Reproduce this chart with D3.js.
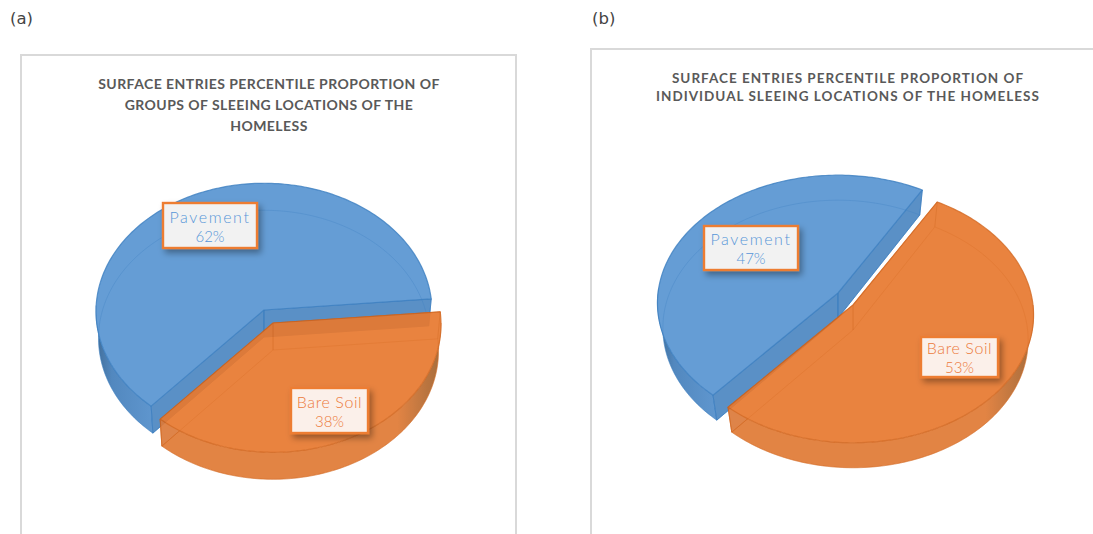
<!DOCTYPE html>
<html>
<head>
<meta charset="utf-8">
<title>Sleeping locations of the homeless</title>
<script src="https://cdnjs.cloudflare.com/ajax/libs/d3/7.8.5/d3.min.js"></script>
<style>
    html, body { margin: 0; padding: 0; background: #fff; overflow: hidden; }
    svg { display: block; }
    text { font-family: Lato, "Open Sans", sans-serif; }
    .tag { font-family: "DejaVu Sans", sans-serif; }
</style>
</head>
<body>
<svg id="chart" width="1093" height="534"></svg>
<script>
const categories = ['Pavement', 'Bare Soil'];
const groupShares = [62, 38];
const individualShares = [47, 53];
const groupTitle = [
    'SURFACE ENTRIES PERCENTILE PROPORTION OF',
    'GROUPS OF SLEEING LOCATIONS OF THE',
    'HOMELESS'
];
const individualTitle = [
    'SURFACE ENTRIES PERCENTILE PROPORTION OF',
    'INDIVIDUAL SLEEING LOCATIONS OF THE HOMELESS'
];

const faceColors = ['#659dd5', '#e8792f'];
const edgeColors = ['#3d7fc0', '#cf5f14'];
const wallStops = [
    ['#3f6a94', '#5288bf', '#5f96ce'],
    ['#e07a35', '#e07a35', '#9c602c']
];
const labelColors = ['#5796d8', '#ec7a3a'];
const labelSpacing = [1.6, 0.6];
const boxFills = ['#f2f2f2', '#fbf0ea'];

const panels = [
    {
        tag: '(a)', tagX: 10, tagY: 24,
        frame: { left: 21, top: 55, right: 516 },
        title: groupTitle, titleX: 269, titleY: 89, titleGap: 21, titleSize: 14, titleSpacing: 0.45,
        shares: groupShares,
        firstAngle: 221.8,
        rx: 168, ry: 128, perspective: 0.01, depth: 27, baseScale: 0.985,
        apex: [[264, 310], [273, 323]],
        boxes: [
            { x: 163, y: 203, w: 94, h: 45 },
            { x: 291, y: 388, w: 77, h: 45 }
        ]
    },
    {
        tag: '(b)', tagX: 592, tagY: 24,
        frame: { left: 591, top: 49, right: 1100 },
        title: individualTitle, titleX: 848, titleY: 83, titleGap: 18, titleSize: 13.5, titleSpacing: 1,
        shares: individualShares,
        firstAngle: 220.8,
        rx: 180, ry: 127, perspective: 0.078, depth: 25, baseScale: 0.97,
        apex: [[838, 293], [853, 305]],
        boxes: [
            { x: 704, y: 226, w: 94, h: 44 },
            { x: 921, y: 337, w: 77, h: 40 }
        ]
    }
];

const svg = d3.select('#chart');
const defs = svg.append('defs');

const shadow = defs.append('filter').attr('id', 'box-shadow')
    .attr('x', '-20%').attr('y', '-30%').attr('width', '140%').attr('height', '170%');
shadow.append('feDropShadow')
    .attr('dx', 3).attr('dy', 4).attr('stdDeviation', 3)
    .attr('flood-color', '#000').attr('flood-opacity', 0.35);

const toRad = d => d * Math.PI / 180;

panels.forEach((panel, panelIndex) => {
    const root = svg.append('g');

    root.append('path')
        .attr('d', `M${panel.frame.left},540V${panel.frame.top}H${panel.frame.right}V540`)
        .attr('fill', 'none')
        .attr('stroke', '#d9d9d9')
        .attr('stroke-width', 2);

    root.append('text')
        .attr('class', 'tag')
        .attr('x', panel.tagX).attr('y', panel.tagY)
        .attr('font-size', 16.5).attr('fill', '#444')
        .text(panel.tag);

    root.selectAll('.title').data(panel.title).join('text')
        .attr('class', 'title')
        .attr('x', panel.titleX)
        .attr('y', (d, i) => panel.titleY + i * panel.titleGap)
        .attr('text-anchor', 'middle')
        .attr('font-size', panel.titleSize)
        .attr('font-weight', 700)
        .attr('letter-spacing', panel.titleSpacing)
        .attr('fill', '#595959')
        .text(d => d);

    const start = toRad(panel.firstAngle);
    const slices = d3.pie().sort(null).startAngle(start).endAngle(start + 2 * Math.PI)(panel.shares);

    slices.forEach((slice, i) => {
        const [ax, ay] = panel.apex[i];
        const xScale = d3.scaleLinear().domain([-1, 1]).range([ax - panel.rx, ax + panel.rx]);
        const yScale = d3.scaleLinear().domain([-1, 1]).range([ay - panel.ry, ay + panel.ry]);

        // disc point on the top face (level 0) or the base (level 1), with a slight perspective
        const project = (angle, radius, level) => {
            const px = Math.sin(angle) * radius, py = -Math.cos(angle) * radius;
            const w = 1 - panel.perspective * py;
            const shrink = level ? panel.baseScale : 1;
            return [
                ax + (xScale(px / w) - ax) * shrink,
                yScale(py / w) + (level ? panel.depth : 0)
            ];
        };
        const sweep = (from, to, level) => {
            const n = Math.max(2, Math.ceil(Math.abs(to - from) / 0.02));
            return d3.range(n + 1).map(k => project(from + (to - from) * k / n, 1, level));
        };
        const line = d3.line();
        const sector = level => line([project(0, 0, level), ...sweep(slice.startAngle, slice.endAngle, level)]) + 'Z';

        const g = root.append('g').attr('opacity', i === 1 ? 0.92 : 1);

        // front part of the rim, only where the disc faces the viewer
        const turn = slice.endAngle > toRad(450) && slice.startAngle >= toRad(272) ? 2 * Math.PI : 0;
        const rimFrom = Math.max(slice.startAngle, toRad(90) + turn);
        const rimTo = Math.min(slice.endAngle, toRad(272) + turn);
        const gradId = `wall-${panelIndex}-${i}`;
        const cornerLeft = project(rimFrom, 1, 0)[0], cornerRight = project(rimTo, 1, 0)[0];
        const grad = defs.append('linearGradient').attr('id', gradId)
            .attr('gradientUnits', 'userSpaceOnUse')
            .attr('x1', Math.min(cornerLeft, cornerRight) - 2).attr('y1', 0)
            .attr('x2', Math.max(cornerLeft, cornerRight) + 2).attr('y2', 0);
        const stops = i === 0 ? [0, 0.3, 1] : [0, 0.84, 1];
        stops.forEach((offset, k) => {
            grad.append('stop').attr('offset', offset).attr('stop-color', wallStops[i][k]);
        });

        const top = sweep(rimFrom, rimTo, 0);
        const base = sweep(rimFrom, rimTo, 1);
        g.append('path')
            .attr('d', line([...top, ...base.reverse()]) + 'Z')
            .attr('fill', `url(#${gradId})`)
            .attr('stroke', edgeColors[i]).attr('stroke-width', 0.8).attr('stroke-opacity', 0.5);

        // cut faces between the slices
        [slice.startAngle, slice.endAngle].forEach(angle => {
            const quad = [project(0, 0, 0), project(angle, 1, 0), project(angle, 1, 1), project(0, 0, 1)];
            g.append('path')
                .attr('d', line(quad) + 'Z')
                .attr('fill', i === 0 ? '#5a90c6' : '#dc7a3a')
                .attr('stroke', edgeColors[i]).attr('stroke-width', 1).attr('stroke-opacity', 0.8);
        });

        g.append('path')
            .attr('d', sector(0))
            .attr('fill', faceColors[i])
            .attr('stroke', edgeColors[i]).attr('stroke-width', 1.2)
            .attr('stroke-opacity', 0.8).attr('stroke-linejoin', 'round');

        // base outline showing faintly through the top face
        g.append('path')
            .attr('d', sector(1))
            .attr('fill', 'none')
            .attr('stroke', edgeColors[i]).attr('stroke-width', 1).attr('stroke-opacity', 0.3);
        [slice.startAngle, slice.endAngle].forEach(angle => {
            g.append('path')
                .attr('d', line([project(angle, 1, 0), project(angle, 1, 1)]))
                .attr('stroke', edgeColors[i]).attr('stroke-width', 1).attr('stroke-opacity', 0.45);
        });
        g.append('path')
            .attr('d', line([project(0, 0, 0), project(0, 0, 1)]))
            .attr('stroke', edgeColors[i]).attr('stroke-width', 1).attr('stroke-opacity', 0.6);
    });

    // data labels sit above both slices
    slices.forEach((slice, i) => {
        const box = panel.boxes[i];
        const label = root.append('g');
        label.append('rect')
            .attr('x', box.x).attr('y', box.y)
            .attr('width', box.w).attr('height', box.h)
            .attr('fill', boxFills[i])
            .attr('stroke', '#ed7d31').attr('stroke-width', 2.4)
            .attr('filter', 'url(#box-shadow)');
        label.append('text')
            .attr('x', box.x + box.w / 2).attr('y', box.y + box.h / 2 - 3)
            .attr('text-anchor', 'middle')
            .attr('font-size', 16).attr('font-weight', 300)
            .attr('letter-spacing', labelSpacing[i])
            .attr('fill', labelColors[i])
            .text(categories[i]);
        label.append('text')
            .attr('x', box.x + box.w / 2).attr('y', box.y + box.h / 2 + 16)
            .attr('text-anchor', 'middle')
            .attr('font-size', 15).attr('font-weight', 300)
            .attr('fill', labelColors[i])
            .text(slice.data + '%');
    });
});
</script>
</body>
</html>
